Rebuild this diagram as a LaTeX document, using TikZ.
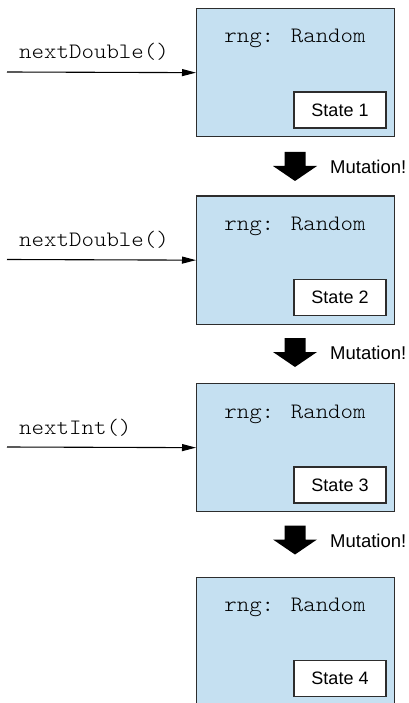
\documentclass[tikz,border=0pt]{standalone}
\usepackage{fontspec}
\setmainfont{Liberation Sans}
\newfontfamily\codefont{Latin Modern Mono Light}[FakeStretch=1.08]
\usetikzlibrary{arrows.meta}
\definecolor{objfill}{RGB}{197,224,241}
\definecolor{edgegray}{RGB}{45,45,45}
\begin{document}
\begin{tikzpicture}[x=1pt,y=-1pt,
  objbox/.style={draw=edgegray, fill=objfill, line width=1.3pt,
    minimum width=198pt, minimum height=128pt, inner sep=0pt, anchor=north west},
  statebox/.style={draw=edgegray, fill=white, line width=1.3pt,
    minimum width=92pt, minimum height=36pt, inner sep=0pt,
    font=\fontsize{18}{20}\selectfont},
  monotext/.style={inner sep=0pt, font=\fontsize{22}{24}\selectfont\codefont},
  mutlabel/.style={inner sep=0pt, anchor=west, font=\fontsize{18.5}{20}\selectfont},
  callline/.style={draw=black, line width=1.1pt, -{Triangle[length=14pt,width=7pt]}},
]
\useasboundingbox (0,0) rectangle (408,703);
\clip (0,0) rectangle (408,703);

% the object after each call, with its current state
\foreach \i/\top in {1/8, 2/195.5, 3/383, 4/576.5} {
  \node[objbox] (box\i) at (196,\top) {};
  \node[monotext, anchor=base] (rng\i) at (295,\top+35) {rng: Random};
  \node[statebox] (state\i) at (340,\top+102) {State \i};
}

% method calls coming in from the left
\foreach \i/\top/\call in {1/8/nextDouble(), 2/195.5/nextDouble(), 3/383/nextInt()} {
  \node[monotext, anchor=base west] (call\i) at (19,\top+51) {\call};
  \coordinate (in\i) at (7,\top+64);
  \draw[callline] (in\i) -- (box\i.west);
}

% block arrows marking each mutation
\foreach \i/\y in {1/152, 2/338, 3/525.5} {
  \fill[black] (284.5,\y) -- (305.5,\y) -- (305.5,\y+14) -- (317,\y+14)
    -- (295,\y+29) -- (273,\y+14) -- (284.5,\y+14) -- cycle;
  \node[mutlabel] (mut\i) at (330,\y+15) {Mutation!};
}
\end{tikzpicture}
\end{document}
